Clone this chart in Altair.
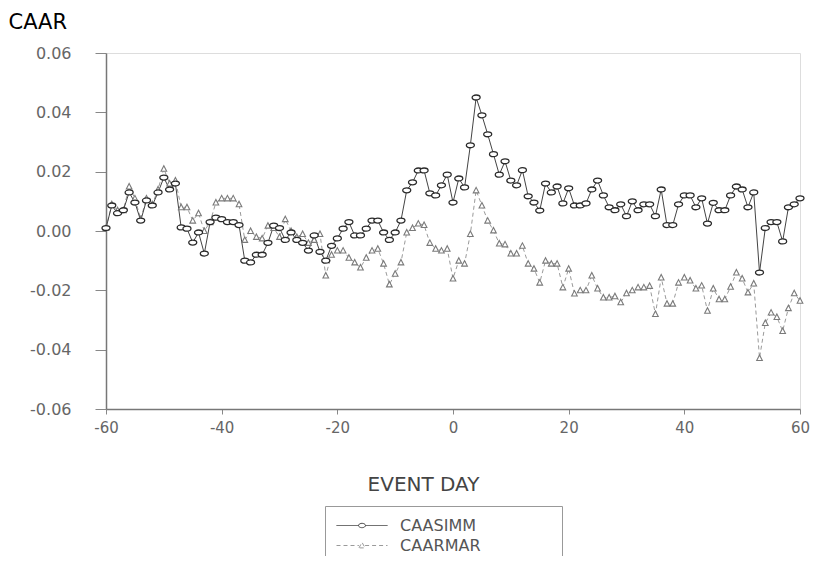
import altair as alt
import pandas as pd

# ---------------- data ----------------
days = list(range(-60, 61))

caasimm = [
    # -60 .. -41
    0.001, 0.0086, 0.006, 0.007, 0.013, 0.0096, 0.0035, 0.0103, 0.0086, 0.013,
    0.018, 0.014, 0.016, 0.0012, 0.0008, -0.0039, -0.0005, -0.0076, 0.003, 0.0045,
    # -40 .. -21
    0.004, 0.003, 0.003, 0.002, -0.010, -0.0106, -0.008, -0.008, -0.004, 0.0018,
    0.001, -0.003, -0.0005, -0.003, -0.004, -0.0066, -0.0015, -0.007, -0.010, -0.005,
    # -20 .. -1
    -0.0025, 0.0008, 0.003, -0.0015, -0.0015, 0.0008, 0.0035, 0.0035, -0.0005, -0.003,
    -0.0005, 0.0035, 0.0137, 0.0164, 0.0204, 0.0204, 0.0127, 0.012, 0.0154, 0.019,
    # 0 .. 19
    0.0096, 0.0177, 0.0147, 0.0289, 0.045, 0.039, 0.0326, 0.0259, 0.019, 0.0235,
    0.017, 0.0154, 0.0205, 0.0117, 0.0096, 0.0069, 0.016, 0.013, 0.015, 0.0093,
    # 20 .. 39
    0.0144, 0.0086, 0.0086, 0.0093, 0.014, 0.017, 0.012, 0.008, 0.007, 0.009,
    0.005, 0.010, 0.007, 0.009, 0.009, 0.005, 0.014, 0.002, 0.002, 0.009,
    # 40 .. 60
    0.012, 0.012, 0.008, 0.011, 0.0025, 0.0095, 0.007, 0.007, 0.012, 0.015,
    0.014, 0.008, 0.013, -0.014, 0.001, 0.003, 0.003, -0.0035, 0.008, 0.009,
    0.011,
]

caarmar = [
    # -60 .. -41
    0.001, 0.009, 0.007, 0.007, 0.015, 0.011, 0.004, 0.011, 0.009, 0.014,
    0.021, 0.016, 0.017, 0.008, 0.008, 0.0035, 0.006, 0.000, 0.003, 0.0096,
    # -40 .. -21
    0.011, 0.011, 0.011, 0.009, -0.003, 0.000, -0.002, -0.0025, 0.0018, 0.001,
    -0.002, 0.004, 0.000, -0.002, -0.001, -0.004, -0.003, -0.001, -0.015, -0.008,
    # -20 .. -1
    -0.0066, -0.0066, -0.009, -0.0106, -0.0123, -0.009, -0.0066, -0.006, -0.011, -0.018,
    -0.0144, -0.0106, -0.0005, 0.001, 0.0025, 0.002, -0.004, -0.006, -0.0066, -0.006,
    # 0 .. 19
    -0.016, -0.010, -0.011, -0.001, 0.0137, 0.0086, 0.0035, 0.0002, -0.0042, -0.0045,
    -0.0076, -0.0076, -0.005, -0.011, -0.0127, -0.0174, -0.010, -0.011, -0.011, -0.019,
    # 20 .. 39
    -0.0127, -0.0211, -0.020, -0.020, -0.015, -0.0194, -0.0224, -0.0224, -0.022, -0.024,
    -0.021, -0.020, -0.019, -0.019, -0.0185, -0.028, -0.0157, -0.0245, -0.0245, -0.0174,
    # 40 .. 60
    -0.0157, -0.0167, -0.0194, -0.0184, -0.0269, -0.0194, -0.023, -0.023, -0.0188, -0.014,
    -0.016, -0.0207, -0.0177, -0.0428, -0.031, -0.0275, -0.029, -0.0337, -0.026, -0.021,
    -0.0235,
]

series_names = ["CAASIMM", "CAARMAR"]
x_ticks = [-60, -40, -20, 0, 20, 40, 60]
y_ticks = [-0.06, -0.04, -0.02, 0.0, 0.02, 0.04, 0.06]

assert len(caasimm) == len(days) and len(caarmar) == len(days)

df = pd.DataFrame({
    "day": days + days,
    "value": caasimm + caarmar,
    "series": [series_names[0]] * len(days) + [series_names[1]] * len(days),
})

# ---------------- styling ----------------
FONT = "DejaVu Sans"
COL1 = "#444444"
COL2 = "#9a9a9a"
ELLIPSE = "M-1,0A1,0.62 0 1,0 1,0A1,0.62 0 1,0 -1,0"
TRI = "M-0.8,0.7L0,-0.85L0.8,0.7Z"
# legend symbols (unit = 8px): a 51px line with a small marker in the middle
LEG1 = "M-1,0H1.75M2.625,0H5.375M1.75,0A0.4375,0.27 0 1,0 2.625,0A0.4375,0.27 0 1,0 1.75,0"
LEG2 = "M-1,0H1.8M2.575,0H5.375M1.8125,0.3L2.1875,-0.4L2.5625,0.3Z"
MINUS_FIX = "replace(datum.label, '\u2212', '-')"
PAD = "\u2800" * 6

stroke_scale = alt.Scale(domain=series_names, range=[COL1, COL2])
dash_scale = alt.Scale(domain=series_names, range=[[1, 0], [4, 3]])
legshape_scale = alt.Scale(domain=series_names, range=[LEG1, LEG2])

legend_def = alt.Legend(
    title=None,
    orient="none",
    legendX=219,
    legendY=453,
    direction="vertical",
    padding=11,
    strokeColor="#999999",
    fillColor="white",
    labelFont=FONT,
    labelFontSize=16,
    labelColor="#555555",
    labelOffset=47,
    labelLimit=400,
    rowPadding=3,
    symbolSize=256,
    symbolStrokeWidth=1,
    symbolOpacity=1,
    labelExpr="datum.label + '" + PAD + "'",
)

x_enc = alt.X(
    "day:Q",
    scale=alt.Scale(domain=[-60, 60], nice=False, zero=False),
    axis=alt.Axis(
        values=x_ticks,
        format="d",
        labelExpr=MINUS_FIX,
        labelFlush=False,
        labelFont=FONT,
        labelFontSize=15,
        labelColor="#666666",
        labelPadding=6,
        tickSize=5,
        tickColor="#888888",
        domainColor="#777777",
        domainWidth=1.5,
        grid=False,
        title="EVENT DAY",
        titleFont=FONT,
        titleFontSize=20,
        titleFontWeight="normal",
        titleColor="#444444",
        titleX=317,
        titleY=81,
        titleAlign="center",
        titleBaseline="alphabetic",
    ),
)

y_enc = alt.Y(
    "value:Q",
    scale=alt.Scale(domain=[-0.06, 0.06], nice=False, zero=False),
    axis=alt.Axis(
        values=y_ticks,
        format=".2f",
        labelExpr=MINUS_FIX,
        labelFlush=False,
        labelFont=FONT,
        labelFontSize=16,
        labelColor="#666666",
        labelPadding=24,
        tickSize=11,
        tickColor="#888888",
        domainColor="#777777",
        domainWidth=1.5,
        grid=False,
        title="CAAR",
        titleFont=FONT,
        titleFontSize=21,
        titleFontWeight="normal",
        titleColor="#000000",
        titleAngle=0,
        titleAlign="left",
        titleBaseline="alphabetic",
        titleX=-98,
        titleY=-25,
    ),
)

base = alt.Chart(df)

line1 = base.transform_filter(alt.datum.series == series_names[0]).mark_line(
    stroke=COL1, strokeWidth=1
).encode(x=x_enc, y=y_enc)

line2 = base.transform_filter(alt.datum.series == series_names[1]).mark_line(
    stroke=COL2, strokeWidth=1, strokeDash=[4, 3]
).encode(x=x_enc, y=y_enc)

pts1 = base.transform_filter(alt.datum.series == series_names[0]).mark_point(
    shape=ELLIPSE, filled=False, fill="white", stroke="#2a2a2a", strokeWidth=1.3, size=64, opacity=1
).encode(x=x_enc, y=y_enc)

pts2 = base.transform_filter(alt.datum.series == series_names[1]).mark_point(
    shape=TRI, filled=False, fill="white", stroke="#7a7a7a", strokeWidth=1.1, size=50, opacity=1
).encode(x=x_enc, y=y_enc)

# legend-only layer: no rows pass the filter, the legend comes from the scales
legend_layer = base.transform_filter("false").mark_point(filled=False, strokeWidth=1, opacity=1).encode(
    x=x_enc,
    y=y_enc,
    shape=alt.Shape("series:N", scale=legshape_scale, legend=legend_def),
    stroke=alt.Stroke("series:N", scale=stroke_scale, legend=legend_def),
    strokeDash=alt.StrokeDash("series:N", scale=dash_scale, legend=legend_def),
)

chart = alt.layer(line2, line1, pts2, pts1, legend_layer).properties(
    width=694,
    height=356,
    autosize=alt.AutoSizeParams(type="none"),
    padding={"left": 98, "top": 45, "right": 10, "bottom": 147},
).configure_view(
    stroke="#777777",
    strokeWidth=1.5,
).configure(background="white")

chart.save("out.html", embed_options={"renderer": "svg", "actions": False})
